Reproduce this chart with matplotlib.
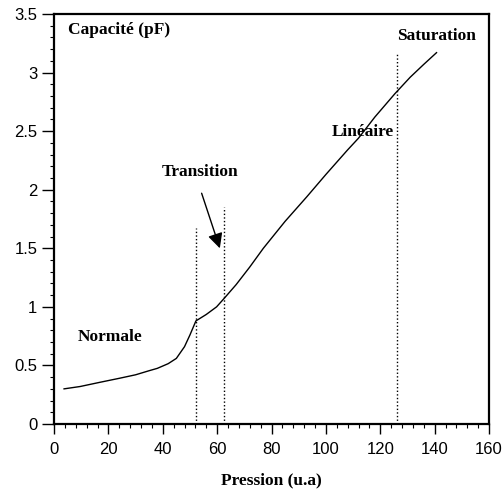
import numpy as np
from matplotlib import pyplot as plt
from matplotlib.ticker import MultipleLocator

# curve
pression = [3.7, 9.6, 16.9, 24, 30, 35, 38, 42, 45, 48, 50, 52.2, 56, 59.8, 62.5, 67, 72, 77, 85, 93, 100, 108, 112, 118, 125.4, 131, 136, 140.7]
capacite = [0.30, 0.32, 0.356, 0.39, 0.42, 0.455, 0.475, 0.515, 0.56, 0.66, 0.76, 0.88, 0.935, 1.0, 1.07, 1.19, 1.34, 1.50, 1.73, 1.94, 2.13, 2.34, 2.44, 2.62, 2.82, 2.96, 3.07, 3.17]

# dotted limits between regimes: x position, top
limites_x = [52.2, 62.7, 126]
limites_haut = [1.67, 1.85, 3.17]

plt.rcParams['font.family'] = ['Liberation Sans', 'DejaVu Sans']
serif = ['Liberation Serif', 'DejaVu Serif']

fig = plt.figure(figsize=(5.04, 4.92), dpi=100)
ax = fig.add_axes([54 / 504, 68 / 492, 435 / 504, 410 / 492])

ax.plot(pression, capacite, color='black', lw=1.0)
for xl, top in zip(limites_x, limites_haut):
    ax.plot([xl, xl], [0, top], color='black', lw=1.0, linestyle=(0, (1, 1.6)))

ax.annotate('', xy=(61, 1.50), xytext=(54.3, 1.97),
            arrowprops=dict(arrowstyle='-|>,head_length=0.9,head_width=0.45',
                            color='black', lw=1.0, shrinkA=0, shrinkB=0))

txt = dict(family=serif, weight='bold', fontsize=12.5, color='black')
ax.text(5, 3.36, 'Capacité (pF)', va='center', ha='left', **txt)
ax.text(126, 3.31, 'Saturation', va='center', ha='left', **txt)
ax.text(102, 2.49, 'Linéaire', va='center', ha='left', **txt)
ax.text(39.7, 2.15, 'Transition', va='center', ha='left', **txt)
ax.text(8.8, 0.74, 'Normale', va='center', ha='left', **txt)

ax.set_xlim(0, 160)
ax.set_ylim(0, 3.5)
ax.xaxis.set_major_locator(MultipleLocator(20))
ax.xaxis.set_minor_locator(MultipleLocator(4))
ax.yaxis.set_minor_locator(MultipleLocator(0.1))
ax.set_yticks(np.arange(0, 3.51, 0.5))
ax.set_yticklabels(['0', '0.5', '1', '1.5', '2', '2.5', '3', '3.5'])
ax.tick_params(axis='x', which='major', direction='out', length=7, width=1, labelsize=12, pad=6)
ax.tick_params(axis='y', which='major', direction='out', length=9, width=1, labelsize=12, pad=3)
ax.tick_params(which='minor', direction='out', length=3, width=0.8)
for s in ax.spines.values():
    s.set_linewidth(1.6)

ax.set_xlabel('Pression (u.a)', family=serif, weight='bold', fontsize=12.5, va='center')
ax.xaxis.set_label_coords(0.5, -0.137)

fig.savefig('out.png', dpi=100)
